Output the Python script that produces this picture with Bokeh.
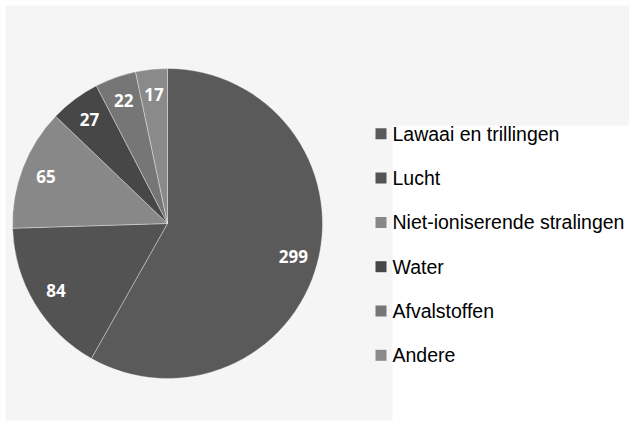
import numpy as np
from bokeh.plotting import figure
from bokeh.models import Range1d, ColumnDataSource
from bokeh.core.properties import value
from bokeh.embed import file_html
from bokeh.resources import INLINE

categories = ["Lawaai en trillingen", "Lucht", "Niet-ioniserende stralingen",
              "Water", "Afvalstoffen", "Andere"]
values = [299, 84, 65, 27, 22, 17]
colors = ["#5a5a5a", "#535353", "#888888", "#474747", "#767676", "#8a8a8a"]

W, H = 629, 423
OX, OY = 0, 0

def px(x):
    return x - OX

def py(y):
    return H - (y - OY)

p = figure(width=W, height=H, x_range=Range1d(0, W), y_range=Range1d(0, H),
           output_backend="svg", toolbar_location=None,
           x_axis_location=None, y_axis_location=None, min_border=0)
p.grid.visible = False
p.outline_line_color = None
p.background_fill_color = "#f5f5f5"
p.border_fill_color = "white"

# white margins and legend panel
p.quad(left=[-5, -5, px(392), -5], right=[px(5), W + 5, W + 5, W + 5],
       bottom=[-5, py(5), -5, -5], top=[H + 5, H + 5, py(125), py(420)],
       fill_color="white", line_color=None)

# pie
cx, cy, r = px(167), py(223), 155
vals = np.array(values, dtype=float)
cum = np.concatenate([[0], np.cumsum(vals)]) / vals.sum()
start = np.pi / 2 - 2 * np.pi * cum[1:]
end = np.pi / 2 - 2 * np.pi * cum[:-1]
mid = (start + end) / 2

src = ColumnDataSource(dict(start=start, end=end, color=colors))
p.wedge(x=cx, y=cy, radius=r, start_angle="start", end_angle="end",
        fill_color="color", line_color="white", line_alpha=0.35, line_width=1,
        source=src)

lr = 0.84 * r
lab = ColumnDataSource(dict(x=cx + lr * np.cos(mid), y=cy + lr * np.sin(mid),
                            t=[str(v) for v in values]))
p.text(x="x", y="y", text="t", source=lab, text_color="white",
       text_font=value("Open Sans"), text_font_style="bold",
       text_font_size="17px", text_align="center", text_baseline="middle")

# legend
row_y = [133.3 + 44.3 * i for i in range(len(categories))]
leg = ColumnDataSource(dict(
    x=[px(380.5)] * len(categories),
    y=[py(y) for y in row_y],
    tx=[px(392)] * len(categories),
    t=categories, color=colors))
p.rect(x="x", y="y", width=11, height=11, fill_color="color",
       line_color=None, source=leg)
p.text(x="tx", y="y", text="t", source=leg, text_color="black",
       text_font=value("Liberation Sans"), text_font_size="19.5px",
       text_align="left", text_baseline="middle")

open("out.html", "w").write(file_html(p, INLINE))
